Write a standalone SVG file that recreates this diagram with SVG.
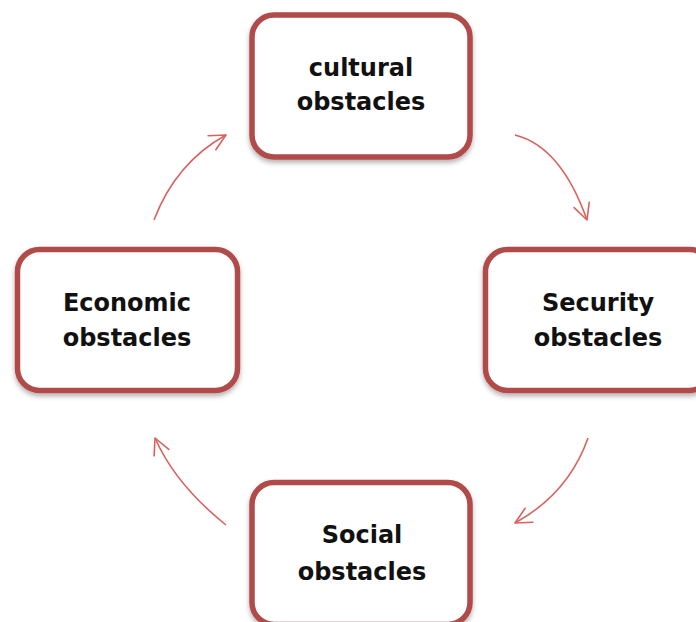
<svg xmlns="http://www.w3.org/2000/svg" width="696" height="622" viewBox="0 0 696 622">
<style>
.box{fill:#ffffff;stroke:#b04b48;stroke-width:5.5;filter:url(#sh)}
.lbl{font-family:"DejaVu Sans",Verdana,sans-serif;font-weight:bold;font-size:24px;fill:#111;text-anchor:middle}
.arr{fill:none;stroke:#d9625f;stroke-width:1.6;marker-end:url(#ah)}
</style>
<defs>
<filter id="sh" x="-10%" y="-10%" width="120%" height="130%">
<feDropShadow dx="0" dy="3" stdDeviation="2.5" flood-color="#000" flood-opacity="0.3"/>
</filter>
<marker id="ah" markerUnits="userSpaceOnUse" markerWidth="24" markerHeight="24" viewBox="-20 -12 24 24" refX="0" refY="0" orient="auto">
<path d="M-16,-8 L0,0 L-16,8" fill="none" stroke="#d9625f" stroke-width="1.6" stroke-linecap="round" stroke-linejoin="round"/>
</marker>
</defs>
<g id="connectors">
<path class="arr" d="M515,135 Q561,146.5 587,220"/>
<path class="arr" d="M588,438 Q568.5,493.5 515,523"/>
<path class="arr" d="M226,525 Q175.5,484.5 155,438"/>
<path class="arr" d="M154,220 Q176,162.5 226,135"/>
</g>
<g id="cultural">
<rect class="box" x="252" y="15" width="218" height="142" rx="22"/>
<text class="lbl" x="361" y="76">cultural</text>
<text class="lbl" x="361" y="110">obstacles</text>
</g>
<g id="security">
<rect class="box" x="485.5" y="249.5" width="226" height="141" rx="22"/>
<text class="lbl" x="598" y="311">Security</text>
<text class="lbl" x="598" y="346">obstacles</text>
</g>
<g id="social">
<rect class="box" x="252" y="482.5" width="218" height="142" rx="22"/>
<text class="lbl" x="362" y="543">Social</text>
<text class="lbl" x="362" y="580">obstacles</text>
</g>
<g id="economic">
<rect class="box" x="17.5" y="249.5" width="220" height="141" rx="22"/>
<text class="lbl" x="127" y="311">Economic</text>
<text class="lbl" x="127" y="346">obstacles</text>
</g>
</svg>
